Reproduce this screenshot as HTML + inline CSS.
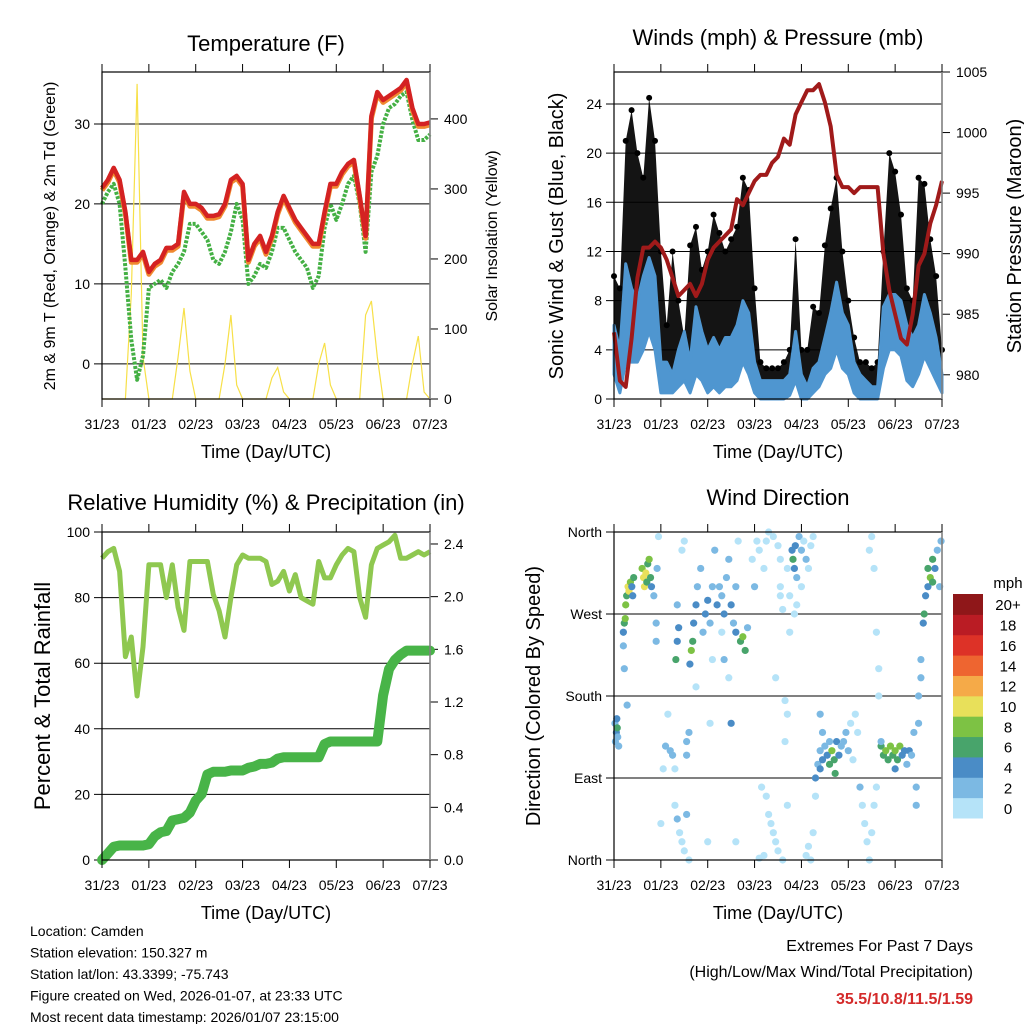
<!DOCTYPE html>
<html><head><meta charset="utf-8"><style>
html,body{margin:0;padding:0;background:#fff}
svg{display:block;font-family:"Liberation Sans",sans-serif}
</style></head><body>
<svg id="c" width="1024" height="1024" viewBox="0 0 1024 1024" xmlns="http://www.w3.org/2000/svg"></svg>
<script>
// ---- data (3-hour steps from day 0 to day 7) ----
const dayLabels=["31/23","01/23","02/23","03/23","04/23","05/23","06/23","07/23"];
const temp=[22,23,24.5,23,19,13,13,14,11.5,12.5,13,14.5,14.5,15,21.5,20,20,19.5,18.5,18.5,18.7,20,23,23.5,22.5,13,15,16,14,16,19,21,19.5,18,17,16,15,15,19,22.5,22.5,24,25,25.5,21,16,31,34,33,33.5,34,34.5,35.5,32,30,30,30.2];
const dewp=[20,21.5,22.5,20,12,3,-2,1,9.5,10,10.5,9.5,11.5,12.5,14,17.5,17.5,16.5,15.5,13,12.5,14,16.5,20,18,10,11,12.5,12,14,17,17,15.5,14,13,12,9.5,11,17,20,18,20,22.5,23.5,20,14,24,26,30,32,32.5,33.5,34,30.5,28,28,28.7];
const solar=[0,0,0,0,0,150,450,60,0,0,0,0,0,60,130,40,0,0,0,0,0,50,120,20,0,0,0,0,0,30,45,10,0,0,0,0,0,50,80,20,0,0,0,0,0,120,140,60,0,0,0,0,0,50,90,10,0];
const pres=[983.5,979.5,979,983,988,990.5,990.5,991,990.5,989.5,988,986.5,987,987.5,986.5,987.5,989.5,990.5,991,991.5,992,994.5,994,995,996,996.5,996.5,997.5,998,999.5,999,1001.5,1002.5,1003.5,1003.5,1004,1002.5,1000.5,996.5,995.5,995.5,995,995.5,995.5,995.5,995.5,990,987,985,983,982.5,985,989,990,992.5,994,996];
const windHi=[6,4,11,9,8,10,11.5,10,3,3,2,4,5.5,3,7.5,5.5,4,5,4,5,5,6,8,7,3,1.5,1.5,1.5,1.5,1.5,2,5.5,2,1,2.5,3,5,7,9.5,7,6,3,2,1.5,1,1,7.5,8.5,8.5,8,6,5,6,8.5,7,5,2];
const windLo=[2,0.5,3,3,3,4,5.5,4,0.5,0.5,0.5,1,1.5,0.5,2,1.5,0.5,1,0.5,1,1,1.5,3,2,0.5,0,0,0,0,0,0.3,1.5,0,0,0.5,1,2,2.5,4,2.5,2,0.5,0,0,0,0,2.5,4,4,3.5,1.5,1,2,3.5,2.5,1.5,0.5];
const gust=[10,9,21,23.5,20,18,24.5,21,12,6,12,8,5,12.5,14,10.5,12,15,13.5,12,13,14,18,17,9,3,2.5,2.5,2.5,3,4,13,4,4,7.5,7,12.5,15.5,18,12,8,5,3,3,2.5,3,12,20,18.5,15,9,8,18,17.5,13,10,4];
const rh=[92,94,95,88,62,68,50,65,90,90,90,80,90,77,70,91,91,91,91,81,76,68,80,90,93,92,92,92,91,84,85,88,82,87,80,79,78,91,86,86,90,93,95,94,80,74,90,95,96,97,99,92,92,93,94,93,94];
const rain=[0,0.05,0.1,0.11,0.11,0.11,0.11,0.11,0.12,0.18,0.21,0.22,0.3,0.31,0.32,0.36,0.45,0.5,0.65,0.67,0.67,0.67,0.68,0.68,0.68,0.7,0.71,0.73,0.73,0.74,0.77,0.78,0.78,0.78,0.78,0.78,0.78,0.78,0.88,0.9,0.9,0.9,0.9,0.9,0.9,0.9,0.9,0.9,1.25,1.45,1.52,1.56,1.59,1.59,1.59,1.59,1.59];
// wind direction: [day, degrees, speed mph]
const dirDay=[0.02,0.05,0.08,0.06,0.03,0.1,0.07,0.2,0.2,0.22,0.24,0.25,0.27,0.3,0.32,0.35,0.38,0.4,0.42,0.28,0.22,0.6,0.63,0.65,0.68,0.7,0.72,0.75,0.78,0.8,0.85,0.9,0.9,0.92,0.95,1.0,1.05,1.1,1.15,1.2,1.25,1.3,1.3,1.35,1.4,1.45,1.5,1.35,1.32,1.38,1.35,1.45,1.5,1.55,1.6,1.55,1.6,1.55,1.62,1.65,1.68,1.7,1.75,1.78,1.85,1.9,1.95,2.0,2.05,2.1,2.1,2.05,2.0,1.75,2.2,2.25,2.3,2.35,2.4,2.45,2.5,2.55,2.6,2.6,2.7,2.75,2.8,2.85,2.65,2.45,2.35,2.15,2.5,2.6,2.3,2.95,3.0,3.05,3.1,3.2,3.25,3.3,3.4,3.5,3.55,3.15,3.25,3.3,3.35,3.4,3.45,3.5,3.2,3.1,3.6,3.65,3.7,3.65,3.55,3.6,3.7,3.75,3.45,3.55,3.7,3.8,3.82,3.85,3.87,3.9,3.95,4.0,4.05,4.1,4.15,4.2,4.25,3.9,4.0,3.75,3.85,4.1,4.15,4.25,4.2,4.3,4.35,4.4,4.45,4.5,4.55,4.6,4.65,4.7,4.72,4.75,4.8,4.85,4.9,4.95,5.0,4.45,4.4,4.6,4.3,4.4,5.05,5.1,5.15,5.2,5.25,5.3,5.35,5.4,5.45,5.5,5.55,5.6,5.45,5.5,5.55,5.6,5.65,5.65,5.7,5.75,5.8,5.85,5.9,5.95,6.0,6.05,6.1,6.15,6.2,6.25,6.3,6.35,6.4,5.7,6.0,6.45,6.45,6.5,6.5,6.55,6.55,6.6,6.62,6.65,6.7,6.75,6.8,6.85,6.9,6.95,6.98,6.7,6.8];
const dirDeg=[150,140,135,155,130,125,145,235,250,260,265,280,290,300,295,305,300,290,310,170,210,320,310,300,315,305,325,330,310,300,290,260,240,320,355,40,100,125,160,120,115,100,60,45,30,20,10,240,220,255,280,340,350,130,140,115,0,50,215,230,240,260,280,300,320,250,270,285,260,300,220,150,20,190,280,300,290,270,310,330,280,260,300,250,240,245,230,255,350,200,220,340,150,20,250,330,300,350,340,320,350,360,355,345,330,80,70,50,40,30,20,10,5,2,0,175,160,130,290,275,320,250,200,300,60,340,330,320,345,310,355,340,350,330,320,345,355,280,300,290,270,5,15,30,0,90,105,120,110,125,115,105,120,110,95,130,115,125,130,140,120,140,100,130,70,160,150,110,160,140,80,60,40,20,0,30,60,80,340,355,320,250,210,180,125,115,120,110,125,115,120,110,125,115,120,105,120,115,140,130,100,60,80,150,180,200,220,260,270,290,320,310,330,320,340,300,350,300,305];
const dirSpd=[3,4,3,4,2,2,6,3,4,7,8,8,6,10,10,8,5,4,6,2,2,8,10,10,10,6,7,8,6,4,3,2,3,2,1,1,1,2,1,2,3,1,1,3,1,1,1,4,6,4,2,1,1,2,2,3,1,2,4,8,6,4,4,3,2,2,4,4,3,2,1,1,1,1,4,2,3,4,2,2,4,2,3,4,6,8,7,2,1,1,2,2,4,1,1,1,2,1,1,1,1,1,1,1,1,1,1,1,1,1,1,1,1,1,1,1,1,1,1,1,1,1,1,1,1,4,6,4,4,2,2,2,1,2,1,1,1,1,1,1,1,1,1,1,1,4,3,2,4,3,5,6,8,7,6,4,5,2,2,2,3,2,4,3,1,3,1,1,1,1,2,1,1,1,1,1,1,1,1,1,1,1,1,1,6,7,8,6,8,6,8,6,8,4,4,3,4,3,3,3,5,2,2,2,2,2,2,4,6,4,6,8,6,4,3,2,2,4,6];
const speedBins=["0","2","4","6","8","10","12","14","16","18","20+"];
const binColors=["#b5e3f8","#7cb9e3","#4a8cc6","#48a46b","#7dc244","#e8e05a","#f5aa48","#ee6530","#dd3227","#ba1c24","#8f1719"];

// ---- helpers ----
const NS="http://www.w3.org/2000/svg";
const svg=document.getElementById('c');
function mk(tag,attrs,parent,text){const e=document.createElementNS(NS,tag);for(const k in attrs)e.setAttribute(k,attrs[k]);if(text!==undefined)e.textContent=text;(parent||svg).appendChild(e);return e;}
const PW=328;
function xs(L){return d=>L+d/7*PW;}
function ys(T,B,lo,hi){return v=>B-(v-lo)/(hi-lo)*(B-T);}
function poly(xf,yf,arr){return arr.map((v,i)=>(xf(i*0.125)).toFixed(1)+","+yf(v).toFixed(1)).join(" ");}

function frame(L,T,B,name){
  const g=mk('g',{});
  
  
  mk('rect',{x:L,y:T,width:PW,height:B-T,fill:'none',stroke:'#000','stroke-width':1.2},g);
  mk('line',{x1:L+PW,y1:T,x2:L+PW,y2:B,stroke:'#888','stroke-width':1.5},g);
  const xf=xs(L);
  for(let i=0;i<8;i++){
    const x=xf(i);
    mk('line',{x1:x,y1:T-8,x2:x,y2:T,stroke:'#000','stroke-width':1},g);
    mk('line',{x1:x,y1:B,x2:x,y2:B+8,stroke:'#000','stroke-width':1},g);
    const t=mk('text',{x:x,y:B+30,'font-size':14,'text-anchor':'middle',fill:'#000'},g,dayLabels[i]);
    
    
  }
  const xt=mk('text',{x:L+PW/2,y:B+59,'font-size':18,'text-anchor':'middle'},g,'Time (Day/UTC)');
  
  
}
function yTicks(L,T,B,yf,vals,labels,side,grid){
  const g=mk('g',{});
  
  
  vals.forEach((v,i)=>{
    const y=yf(v);
    if(side==='left'){
      if(grid) mk('line',{x1:L-8,y1:y,x2:L+PW,y2:y,stroke:'#000','stroke-width':1},g);
      else mk('line',{x1:L-8,y1:y,x2:L,y2:y,stroke:'#000'},g);
      mk('text',{x:L-12,y:y+5,'font-size':14,'text-anchor':'end'},g,labels[i]);
    }else{
      mk('line',{x1:L+PW,y1:y,x2:L+PW+8,y2:y,stroke:'#000'},g);
      mk('text',{x:L+PW+14,y:y+5,'font-size':14,'text-anchor':'start'},g,labels[i]);
    }
  });
}
function title(x,y,s,size,name){const t=mk('text',{x:x,y:y,'font-size':size,'text-anchor':'middle'},svg,s);}
function vtitle(x,y,s,size,name){const t=mk('text',{x:x,y:y,'font-size':size,'text-anchor':'middle',transform:`rotate(-90 ${x} ${y})`},svg,s);}

// ================= Temperature panel =================
(function(){
  const L=102,T=72,B=399,xf=xs(L),yT=ys(T,B,-4.4,36.5),yS=ys(T,B,0,467);
  title(266,51,'Temperature (F)',22,'temperature-title');
  yTicks(L,T,B,yT,[0,10,20,30],["0","10","20","30"],'left',true);
  yTicks(L,T,B,yS,[0,100,200,300,400],["0","100","200","300","400"],'right',false);
  const s=mk('polyline',{points:poly(xf,yS,solar),fill:'none',stroke:'#f7e048','stroke-width':1.2});
  
  
  const d=mk('polyline',{points:poly(xf,yT,dewp),fill:'none',stroke:'#44b044','stroke-width':4,'stroke-dasharray':'3 1.5','stroke-linejoin':'round'});
  
  
  const o=mk('polyline',{points:poly(xf,yT,temp.map(v=>v-0.3)),fill:'none',stroke:'#f08a30','stroke-width':5,'stroke-linejoin':'round'});
  
  
  const r=mk('polyline',{points:poly(xf,yT,temp),fill:'none',stroke:'#d42222','stroke-width':4.5,'stroke-linejoin':'round'});
  
  
  frame(L,T,B,'temperature');
  vtitle(55,236,'2m & 9m T (Red, Orange) & 2m Td (Green)',16,'temperature-y-title');
  vtitle(497,236,'Solar Insolation (Yellow)',16,'solar-y-title');
})();

// ================= Winds panel =================
(function(){
  const L=614,T=72,B=399,xf=xs(L),yW=ys(T,B,0,26.6),yP=ys(T,B,978.0,1005);
  title(778,45,'Winds (mph) & Pressure (mb)',22,'winds-title');
  yTicks(L,T,B,yW,[0,4,8,12,16,20,24],["0","4","8","12","16","20","24"],'left',true);
  yTicks(L,T,B,yP,[980,985,990,995,1000,1005],["980","985","990","995","1000","1005"],'right',false);
  const gp=gust.map((v,i)=>xf(i*0.125).toFixed(1)+","+yW(v).toFixed(1)).join(" ");
  const lp=windHi.map((v,i)=>xf(i*0.125).toFixed(1)+","+yW(v).toFixed(1)).reverse().join(" ");
  const band=mk('polygon',{points:gp+" "+lp,fill:'#000','fill-opacity':0.92});
  
  
  gust.forEach((v,i)=>{
    const c=mk('circle',{cx:xf(i*0.125),cy:yW(v),r:3,fill:'#000'});
    
    
  });
  const hp=windHi.map((v,i)=>xf(i*0.125).toFixed(1)+","+yW(v).toFixed(1)).join(" ");
  const lo=windLo.map((v,i)=>xf(i*0.125).toFixed(1)+","+yW(v).toFixed(1)).reverse().join(" ");
  const w=mk('polygon',{points:hp+" "+lo,fill:'#4f96d0',stroke:'#4f96d0','stroke-width':3,'stroke-linejoin':'round'});
  
  
  const p=mk('polyline',{points:poly(xf,yP,pres),fill:'none',stroke:'#a01a1a','stroke-width':4,'stroke-linejoin':'round'});
  
  
  frame(L,T,B,'winds');
  vtitle(563,236,'Sonic Wind & Gust (Blue, Black)',20,'wind-y-title');
  vtitle(1021,236,'Station Pressure (Maroon)',20,'pressure-y-title');
})();

// ================= Humidity panel =================
(function(){
  const L=102,T=532,B=860,xf=xs(L),yR=ys(T,B,0,100),yI=ys(T,B,0,2.491);
  title(266,510,'Relative Humidity (%) & Precipitation (in)',22,'humidity-title');
  yTicks(L,T,B,yR,[0,20,40,60,80,100],["0","20","40","60","80","100"],'left',true);
  yTicks(L,T,B,yI,[0,0.4,0.8,1.2,1.6,2.0,2.4],["0.0","0.4","0.8","1.2","1.6","2.0","2.4"],'right',false);
  const h=mk('polyline',{points:poly(xf,yR,rh),fill:'none',stroke:'#8fc850','stroke-width':5,'stroke-linejoin':'round'});
  
  
  const r=mk('polyline',{points:poly(xf,yI,rain),fill:'none',stroke:'#48b448','stroke-width':10,'stroke-linejoin':'round','stroke-linecap':'round'});
  
  
  frame(L,T,B,'humidity');
  vtitle(50,696,'Percent & Total Rainfall',22,'humidity-y-title');
})();

// ================= Wind direction panel =================
(function(){
  const L=614,T=532,B=860,xf=xs(L),yD=ys(T,B,0,360);
  title(778,505,'Wind Direction',22,'wind-direction-title');
  yTicks(L,T,B,yD,[0,90,180,270,360],["North","East","South","West","North"],'left',true);
  dirDay.forEach((d,i)=>{
    const b=Math.min(10,Math.floor(dirSpd[i]/2));
    const c=mk('circle',{cx:xf(d),cy:yD(dirDeg[i]),r:3.6,fill:binColors[b]});
    
    
  });
  frame(L,T,B,'wind-direction');
  vtitle(540,696,'Direction (Colored By Speed)',20,'direction-y-title');
  const g=mk('g',{});
  
  
  const top=594,h=224/11;
  for(let i=0;i<11;i++){
    const y=top+(10-i)*h;
    mk('rect',{x:953,y:y,width:30,height:h+0.5,fill:binColors[i]},g);
    mk('text',{x:1008,y:y+h/2+6,'font-size':15,'text-anchor':'middle'},g,speedBins[i]);
  }
  mk('text',{x:1008,y:588,'font-size':15,'text-anchor':'middle'},g,'mph');
})();

// ================= Footer text =================
(function(){
  const lines=["Location: Camden","Station elevation: 150.327 m","Station lat/lon: 43.3399; -75.743","Figure created on Wed, 2026-01-07, at 23:33 UTC","Most recent data timestamp: 2026/01/07 23:15:00"];
  const g=mk('g',{});
  
  
  lines.forEach((s,i)=>mk('text',{x:30,y:936+i*21.5,'font-size':14},g,s));
  const e=mk('g',{});
  
  
  mk('text',{x:973,y:951,'font-size':16,'text-anchor':'end'},e,'Extremes For Past 7 Days');
  mk('text',{x:973,y:977,'font-size':16,'text-anchor':'end'},e,'(High/Low/Max Wind/Total Precipitation)');
  mk('text',{x:973,y:1004,'font-size':16,'text-anchor':'end','font-weight':'bold',fill:'#d42a2a'},e,'35.5/10.8/11.5/1.59');
})();
</script>
</body></html>
